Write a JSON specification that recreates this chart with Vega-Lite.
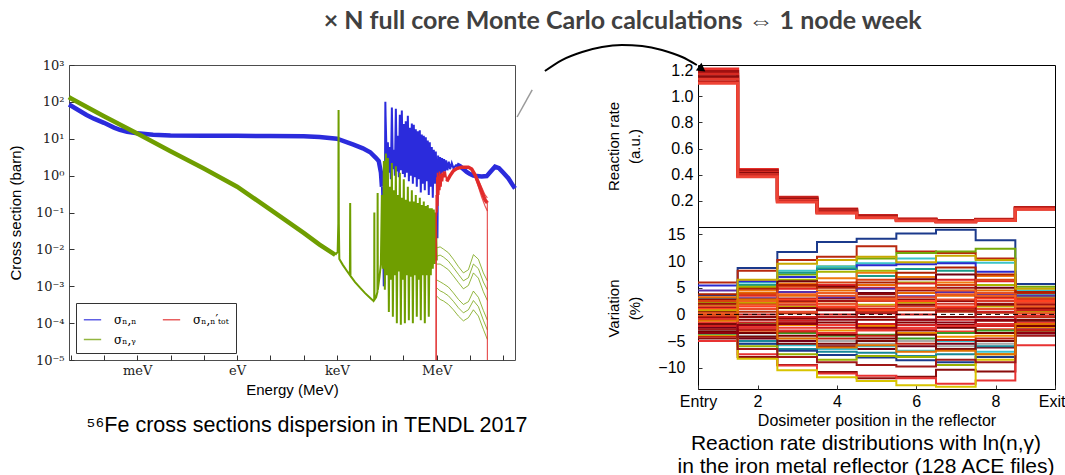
{
"$schema": "https://vega.github.io/schema/vega-lite/v6.json",
"padding": {"left": 7, "top": 8, "right": 0, "bottom": 0},
"background": "white",
"title": {"text": "× N full core Monte Carlo calculations ⇔ 1 node week", "font": "Lato", "fontSize": 25, "fontWeight": "bold", "color": "#404040", "anchor": "middle", "frame": "bounds", "dx": 86, "offset": 7},
"config": {
  "font": "Liberation Sans",
  "view": {"stroke": "black"},
  "axis": {"grid": false, "domain": false, "labelColor": "black", "titleColor": "black", "titleFontWeight": "normal", "titleFont": "Liberation Sans", "labelOverlap": false, "tickColor": "#333"},
  "legend": {"orient": "bottom-left", "offset": 7, "columns": 2, "symbolType": "stroke", "symbolStrokeWidth": 1.5, "symbolSize": 300, "labelFont": "DejaVu Serif", "labelFontSize": 12, "strokeColor": "#333", "fillColor": "white", "padding": 7, "columnPadding": 22, "rowPadding": 4, "labelOffset": 12}
},
"bounds": "flush",
"spacing": 183,
"resolve": {"scale": {"x": "independent", "y": "independent", "color": "independent"}, "legend": {"color": "independent"}, "axis": {"x": "independent", "y": "independent"}},
"hconcat": [
{
  "width": 446, "height": 295,
  "view": {"stroke": "#4d4d4d"},
  "title": {"text": "⁵⁶Fe cross sections dispersion in TENDL 2017", "orient": "bottom", "fontSize": 21.5, "fontWeight": "normal", "anchor": "middle", "frame": "group", "dx": 15, "offset": 18, "color": "black", "font": "Liberation Sans"},
  "encoding": {
    "x": {"field": "E", "type": "quantitative", "scale": {"type": "log", "domain": [8.9e-12, 224], "nice": false},
      "axis": {"values": [1e-11, 1e-10, 1e-9, 1e-8, 1e-7, 1e-6, 1e-5, 1e-4, 1e-3, 1e-2, 0.1, 1, 10, 100],
        "labelExpr": "round(log(datum.value)/LN10) == -9 ? 'meV' : round(log(datum.value)/LN10) == -6 ? 'eV' : round(log(datum.value)/LN10) == -3 ? 'keV' : round(log(datum.value)/LN10) == 0 ? 'MeV' : ''",
        "labelFont": "DejaVu Serif", "labelFontSize": 13, "labelColor": "#222", "labelPadding": 9, "ticks": true, "tickSize": -5, "labelOverlap": false,
        "title": "Energy (MeV)", "titleFontSize": 15, "titlePadding": 5}},
    "y": {"field": "s", "type": "quantitative", "scale": {"type": "log", "domain": [1e-5, 1000], "nice": false},
      "axis": {"values": [1e-5, 1e-4, 0.001, 0.01, 0.1, 1, 10, 100, 1000],
        "labelExpr": "'10' + ['⁻⁵','⁻⁴','⁻³','⁻²','⁻¹','⁰','¹','²','³'][round(log(datum.value)/LN10)+5]",
        "labelFont": "DejaVu Serif", "labelFontSize": 13, "labelColor": "#222", "labelPadding": 10, "ticks": true, "tickSize": -5, "labelOverlap": false,
        "title": "Cross section (barn)", "titleFontSize": 15, "titlePadding": 12}}
  },
  "layer": [
    {"data": {"values": [{"E":8.9e-12,"s":85},{"E":1e-11,"s":80},{"E":2e-11,"s":55},{"E":3e-11,"s":44},{"E":5e-11,"s":35},{"E":1e-10,"s":27},{"E":2e-10,"s":20},{"E":3e-10,"s":17.5},{"E":5e-10,"s":15.5},{"E":1e-9,"s":14},{"E":3e-9,"s":12.8},{"E":1e-8,"s":12.3},{"E":1e-7,"s":12},{"E":1e-6,"s":12},{"E":1e-5,"s":11.9},{"E":1e-4,"s":11.7},{"E":3e-4,"s":11.2},{"E":1e-3,"s":10},{"E":3e-3,"s":7},{"E":6e-3,"s":5.5},{"E":1e-2,"s":4.3},{"E":1.5e-2,"s":3.0},{"E":1.8e-2,"s":2.5},{"E":2.1e-2,"s":1.2},{"E":2.25e-2,"s":0.5}]},
     "mark": {"type": "line", "strokeWidth": 4.5},
     "encoding": {"color": {"datum": "σₙ,ₙ", "type": "nominal", "scale": {"domain": ["σₙ,ₙ", "σₙ,ᵧ", "σₙ,ₙ′ₜₒₜ"], "range": ["#2b2bdc", "#6f9e00", "#e12b2b"]}, "legend": {"title": null}}}},
    {"data": {"values": [{"E":2.25e-2,"s":0.5},{"E":2.4e-2,"s":0.05},{"E":2.55e-2,"s":1e-3},{"E":2.7e-2,"s":1.2e-3},{"E":2.8e-2,"s":5},{"E":2.85e-2,"s":100},{"E":2.9e-2,"s":40},{"E":0.0316,"s":2.0},{"E":0.0339,"s":8},{"E":0.0363,"s":1.2},{"E":0.0389,"s":6},{"E":0.0417,"s":0.8},{"E":0.0447,"s":70},{"E":0.0479,"s":1.5},{"E":0.0513,"s":5},{"E":0.055,"s":1.0},{"E":0.0589,"s":65},{"E":0.0631,"s":1.3},{"E":0.0676,"s":12},{"E":0.0724,"s":0.9},{"E":0.0776,"s":45},{"E":0.0832,"s":1.4},{"E":0.0891,"s":58},{"E":0.0955,"s":1.1},{"E":0.102,"s":25},{"E":0.110,"s":0.9},{"E":0.117,"s":30},{"E":0.126,"s":1.2},{"E":0.135,"s":42},{"E":0.145,"s":0.7},{"E":0.155,"s":20},{"E":0.166,"s":1.0},{"E":0.178,"s":26},{"E":0.191,"s":0.6},{"E":0.204,"s":24},{"E":0.219,"s":0.9},{"E":0.234,"s":18},{"E":0.251,"s":0.5},{"E":0.269,"s":16},{"E":0.288,"s":0.8},{"E":0.309,"s":17},{"E":0.331,"s":0.35},{"E":0.355,"s":13},{"E":0.380,"s":0.6},{"E":0.407,"s":12},{"E":0.437,"s":0.4},{"E":0.468,"s":11},{"E":0.501,"s":0.7},{"E":0.537,"s":9},{"E":0.575,"s":0.3},{"E":0.617,"s":8},{"E":0.661,"s":0.5},{"E":0.708,"s":6},{"E":0.759,"s":0.25},{"E":0.813,"s":5},{"E":0.871,"s":0.6},{"E":0.933,"s":4.5},{"E":1.0,"s":0.8},{"E":1.047,"s":0.02},{"E":1.096,"s":3.5},{"E":1.175,"s":1.0},{"E":1.259,"s":3.2},{"E":1.349,"s":1.1},{"E":1.445,"s":3.0},{"E":1.549,"s":1.2},{"E":1.66,"s":2.8},{"E":1.778,"s":1.3},{"E":1.905,"s":2.6},{"E":2.09,"s":1.4},{"E":2.29,"s":2.4},{"E":2.51,"s":1.5},{"E":2.82,"s":2.2},{"E":3.16,"s":1.6},{"E":3.98,"s":2.0}]},
     "mark": {"type": "line", "strokeWidth": 2},
     "encoding": {"color": {"datum": "σₙ,ₙ", "type": "nominal", "scale": {"domain": ["σₙ,ₙ", "σₙ,ᵧ", "σₙ,ₙ′ₜₒₜ"], "range": ["#2b2bdc", "#6f9e00", "#e12b2b"]}}}},
    {"data": {"values": [{"E":3.98,"s":2.0},{"E":5.0,"s":1.8},{"E":6.3,"s":1.5},{"E":7.9,"s":1.25},{"E":10,"s":1.1},{"E":12.6,"s":1.0},{"E":15.8,"s":0.97},{"E":22.4,"s":0.95},{"E":31.6,"s":0.97},{"E":41.7,"s":1.3},{"E":56.2,"s":1.75},{"E":74,"s":1.6},{"E":100,"s":1.2},{"E":141,"s":0.85},{"E":200,"s":0.52},{"E":224,"s":0.45}]},
     "mark": {"type": "line", "strokeWidth": 4.5},
     "encoding": {"color": {"datum": "σₙ,ₙ", "type": "nominal", "scale": {"domain": ["σₙ,ₙ", "σₙ,ᵧ", "σₙ,ₙ′ₜₒₜ"], "range": ["#2b2bdc", "#6f9e00", "#e12b2b"]}}}},
    {"data": {"values": [{"E":8.9e-12,"s":135},{"E":1e-11,"s":125},{"E":1e-10,"s":41},{"E":1e-9,"s":13.8},{"E":1e-8,"s":4.6},{"E":1e-7,"s":1.55},{"E":1e-6,"s":0.5},{"E":1e-5,"s":0.12},{"E":1e-4,"s":0.028},{"E":3e-4,"s":0.0135},{"E":8.9e-4,"s":0.0071}]},
     "mark": {"type": "line", "strokeWidth": 4.5},
     "encoding": {"color": {"datum": "σₙ,ᵧ", "type": "nominal", "scale": {"domain": ["σₙ,ₙ", "σₙ,ᵧ", "σₙ,ₙ′ₜₒₜ"], "range": ["#2b2bdc", "#6f9e00", "#e12b2b"]}}}},
    {"data": {"values": [{"E":8.9e-4,"s":0.0071},{"E":1.05e-3,"s":0.0085},{"E":1.1e-3,"s":0.05},{"E":1.12e-3,"s":60},{"E":1.14e-3,"s":0.05},{"E":1.18e-3,"s":0.0055},{"E":1.5e-3,"s":0.0038},{"E":2e-3,"s":0.0026},{"E":2.45e-3,"s":0.002},{"E":2.5e-3,"s":0.18},{"E":2.55e-3,"s":0.0019},{"E":3.5e-3,"s":0.0013},{"E":5e-3,"s":9e-4},{"E":7e-3,"s":6.5e-4},{"E":1e-2,"s":4.8e-4},{"E":1.25e-2,"s":4e-4},{"E":1.32e-2,"s":4.2e-4},{"E":1.33e-2,"s":0.1},{"E":1.34e-2,"s":4.3e-4},{"E":1.5e-2,"s":5e-4},{"E":1.65e-2,"s":7e-4},{"E":1.67e-2,"s":0.34},{"E":1.69e-2,"s":8e-4},{"E":1.9e-2,"s":1.8e-3},{"E":2.09e-2,"s":4e-3},{"E":0.0224,"s":0.3},{"E":0.024,"s":0.003},{"E":0.0257,"s":2.5},{"E":0.0275,"s":8e-4},{"E":0.0295,"s":4},{"E":0.0316,"s":2e-3},{"E":0.0339,"s":3},{"E":0.0363,"s":2e-4},{"E":0.0389,"s":0.5},{"E":0.0417,"s":1.5e-3},{"E":0.0447,"s":2.2},{"E":0.0479,"s":1.5e-4},{"E":0.0513,"s":0.4},{"E":0.055,"s":2e-3},{"E":0.0589,"s":1.8},{"E":0.0631,"s":1e-4},{"E":0.0676,"s":0.3},{"E":0.0724,"s":2.5e-3},{"E":0.0776,"s":1.2},{"E":0.0832,"s":9e-5},{"E":0.0891,"s":0.25},{"E":0.0955,"s":1.5e-3},{"E":0.102,"s":0.8},{"E":0.110,"s":1e-4},{"E":0.117,"s":0.22},{"E":0.126,"s":2e-3},{"E":0.135,"s":0.5},{"E":0.145,"s":1.2e-4},{"E":0.155,"s":0.2},{"E":0.166,"s":1.8e-3},{"E":0.178,"s":0.4},{"E":0.191,"s":1e-4},{"E":0.204,"s":0.2},{"E":0.219,"s":2e-3},{"E":0.234,"s":0.3},{"E":0.251,"s":1.5e-4},{"E":0.269,"s":0.18},{"E":0.288,"s":1.5e-3},{"E":0.309,"s":0.25},{"E":0.331,"s":1.2e-4},{"E":0.355,"s":0.16},{"E":0.380,"s":2e-3},{"E":0.407,"s":0.2},{"E":0.437,"s":1e-4},{"E":0.468,"s":0.15},{"E":0.501,"s":2e-3},{"E":0.537,"s":0.16},{"E":0.575,"s":1.5e-4},{"E":0.617,"s":0.13},{"E":0.661,"s":2e-3},{"E":0.708,"s":0.13},{"E":0.759,"s":3e-3},{"E":0.813,"s":0.12},{"E":0.871,"s":4e-3},{"E":0.933,"s":0.1},{"E":1.0,"s":5e-3}]},
     "mark": {"type": "line", "strokeWidth": 2},
     "encoding": {"color": {"datum": "σₙ,ᵧ", "type": "nominal", "scale": {"domain": ["σₙ,ₙ", "σₙ,ᵧ", "σₙ,ₙ′ₜₒₜ"], "range": ["#2b2bdc", "#6f9e00", "#e12b2b"]}}}},
    {"data": {"values": [
      {"k":1,"E":1.0,"s":0.011},{"k":1,"E":1.26,"s":0.0117},{"k":1,"E":1.58,"s":0.0102},{"k":1,"E":2.24,"s":0.0081},{"k":1,"E":3.16,"s":0.0054},{"k":1,"E":4.47,"s":0.0034},{"k":1,"E":6.31,"s":0.0023},{"k":1,"E":8.91,"s":0.0028},{"k":1,"E":12.6,"s":0.0072},{"k":1,"E":17.8,"s":0.0054},{"k":1,"E":25.1,"s":0.0023},{"k":1,"E":33.1,"s":0.0014},
      {"k":2,"E":1.0,"s":0.0065},{"k":2,"E":1.26,"s":0.007},{"k":2,"E":1.58,"s":0.0062},{"k":2,"E":2.24,"s":0.0048},{"k":2,"E":3.16,"s":0.0032},{"k":2,"E":4.47,"s":0.0021},{"k":2,"E":6.31,"s":0.0014},{"k":2,"E":8.91,"s":0.0017},{"k":2,"E":12.6,"s":0.004},{"k":2,"E":17.8,"s":0.003},{"k":2,"E":25.1,"s":0.0013},{"k":2,"E":33.1,"s":8e-4},
      {"k":3,"E":1.0,"s":0.004},{"k":3,"E":1.26,"s":0.004},{"k":3,"E":1.58,"s":0.0035},{"k":3,"E":2.24,"s":0.0028},{"k":3,"E":3.16,"s":0.0019},{"k":3,"E":4.47,"s":0.00126},{"k":3,"E":6.31,"s":8.5e-4},{"k":3,"E":8.91,"s":1.05e-3},{"k":3,"E":12.6,"s":0.0023},{"k":3,"E":17.8,"s":0.00166},{"k":3,"E":25.1,"s":7.1e-4},{"k":3,"E":33.1,"s":4.1e-4},
      {"k":4,"E":1.0,"s":0.00148},{"k":4,"E":1.26,"s":0.00132},{"k":4,"E":1.58,"s":0.00117},{"k":4,"E":2.24,"s":9.5e-4},{"k":4,"E":3.16,"s":6.6e-4},{"k":4,"E":4.47,"s":4.4e-4},{"k":4,"E":6.31,"s":3.2e-4},{"k":4,"E":8.91,"s":3.8e-4},{"k":4,"E":12.6,"s":7.4e-4},{"k":4,"E":17.8,"s":5e-4},{"k":4,"E":25.1,"s":2.2e-4},{"k":4,"E":33.1,"s":1.2e-4},
      {"k":5,"E":1.0,"s":9e-4},{"k":5,"E":1.26,"s":7.5e-4},{"k":5,"E":1.58,"s":6.8e-4},{"k":5,"E":2.24,"s":5.5e-4},{"k":5,"E":3.16,"s":3.9e-4},{"k":5,"E":4.47,"s":2.6e-4},{"k":5,"E":6.31,"s":1.9e-4},{"k":5,"E":8.91,"s":2.3e-4},{"k":5,"E":12.6,"s":4.1e-4},{"k":5,"E":17.8,"s":2.8e-4},{"k":5,"E":25.1,"s":1.2e-4},{"k":5,"E":33.1,"s":6.5e-5},
      {"k":6,"E":1.0,"s":5.4e-4},{"k":6,"E":1.26,"s":4.4e-4},{"k":6,"E":1.58,"s":4e-4},{"k":6,"E":2.24,"s":3.2e-4},{"k":6,"E":3.16,"s":2.3e-4},{"k":6,"E":4.47,"s":1.55e-4},{"k":6,"E":6.31,"s":1.15e-4},{"k":6,"E":8.91,"s":1.4e-4},{"k":6,"E":12.6,"s":2.3e-4},{"k":6,"E":17.8,"s":1.55e-4},{"k":6,"E":25.1,"s":6.8e-5},{"k":6,"E":33.1,"s":3.6e-5}]},
     "mark": {"type": "line", "strokeWidth": 1, "opacity": 0.75},
     "encoding": {"detail": {"field": "k", "type": "nominal"}, "color": {"datum": "σₙ,ᵧ", "type": "nominal", "scale": {"domain": ["σₙ,ₙ", "σₙ,ᵧ", "σₙ,ₙ′ₜₒₜ"], "range": ["#2b2bdc", "#6f9e00", "#e12b2b"]}}}},
    {"data": {"values": [{"E":0.955,"s":1e-5},{"E":0.96,"s":0.3},{"E":0.98,"s":0.08},{"E":1.0,"s":0.9},{"E":1.02,"s":0.1},{"E":1.05,"s":1.2},{"E":1.08,"s":0.15},{"E":1.12,"s":1.0},{"E":1.15,"s":0.3},{"E":1.2,"s":1.3},{"E":1.24,"s":0.4},{"E":1.3,"s":1.1},{"E":1.35,"s":0.5},{"E":1.4,"s":1.2},{"E":1.5,"s":0.7},{"E":1.6,"s":1.3},{"E":1.7,"s":0.9},{"E":1.8,"s":1.3},{"E":2.0,"s":0.7}]},
     "mark": {"type": "line", "strokeWidth": 1.5},
     "encoding": {"color": {"datum": "σₙ,ₙ′ₜₒₜ", "type": "nominal", "scale": {"domain": ["σₙ,ₙ", "σₙ,ᵧ", "σₙ,ₙ′ₜₒₜ"], "range": ["#2b2bdc", "#6f9e00", "#e12b2b"]}}}},
    {"data": {"values": [{"E":2.0,"s":0.7},{"E":2.51,"s":1.0},{"E":3.16,"s":1.35},{"E":3.98,"s":1.55},{"E":5.62,"s":1.7},{"E":8.91,"s":1.7},{"E":11.2,"s":1.5},{"E":14.1,"s":1.05},{"E":17.8,"s":0.63},{"E":22.4,"s":0.37},{"E":28.2,"s":0.22},{"E":33.1,"s":0.18}]},
     "mark": {"type": "line", "strokeWidth": 3.5},
     "encoding": {"color": {"datum": "σₙ,ₙ′ₜₒₜ", "type": "nominal", "scale": {"domain": ["σₙ,ₙ", "σₙ,ᵧ", "σₙ,ₙ′ₜₒₜ"], "range": ["#2b2bdc", "#6f9e00", "#e12b2b"]}}}},
    {"data": {"values": [{"k":1,"E":11.2,"s":1.5},{"k":1,"E":14.1,"s":0.95},{"k":1,"E":17.8,"s":0.5},{"k":1,"E":22.4,"s":0.26},{"k":1,"E":28.2,"s":0.15},{"k":1,"E":33.1,"s":0.11},{"k":2,"E":11.2,"s":1.5},{"k":2,"E":14.1,"s":1.1},{"k":2,"E":17.8,"s":0.75},{"k":2,"E":22.4,"s":0.48},{"k":2,"E":28.2,"s":0.3},{"k":2,"E":33.1,"s":0.25},{"k":3,"E":33.1,"s":0.18},{"k":3,"E":33.2,"s":1e-5}]},
     "mark": {"type": "line", "strokeWidth": 1.2, "opacity": 0.8},
     "encoding": {"detail": {"field": "k", "type": "nominal"}, "color": {"datum": "σₙ,ₙ′ₜₒₜ", "type": "nominal", "scale": {"domain": ["σₙ,ₙ", "σₙ,ᵧ", "σₙ,ₙ′ₜₒₜ"], "range": ["#2b2bdc", "#6f9e00", "#e12b2b"]}}}}
  ]
},
{
  "bounds": "flush",
  "spacing": 0,
  "resolve": {"scale": {"x": "independent", "y": "independent", "color": "independent"}, "axis": {"x": "independent", "y": "independent"}},
  "title": {"text": ["Reaction rate distributions with ln(n,γ)", "in the iron metal reflector (128 ACE files)"], "orient": "bottom", "fontSize": 21, "fontWeight": "normal", "lineHeight": 23, "anchor": "middle", "frame": "group", "dx": 168, "offset": 4, "color": "black", "font": "Liberation Sans"},
  "vconcat": [
    {
      "width": 357, "height": 162,
      "encoding": {
        "x": {"field": "x", "type": "quantitative", "scale": {"domain": [0.5, 9.5], "nice": false, "zero": false}, "axis": {"labels": false, "ticks": false, "title": null}},
        "y": {"field": "v", "type": "quantitative", "scale": {"domain": [0, 1.24], "nice": false}, "axis": {"values": [0.2, 0.4, 0.6, 0.8, 1.0, 1.2], "format": ".1f", "labelOverlap": false, "labelFontSize": 16, "labelPadding": 9, "ticks": true, "tickSize": -4, "title": ["Reaction rate", "(a.u.)"], "titleFontSize": 15, "titleLineHeight": 21, "titlePadding": 28}}
      },
      "layer": [
        {"data": {"values": [
          {"s":1,"x":0.5,"v":1.21},{"s":1,"x":1.5,"v":0.44},{"s":1,"x":2.5,"v":0.228},{"s":1,"x":3.5,"v":0.138},{"s":1,"x":4.5,"v":0.088},{"s":1,"x":5.5,"v":0.062},{"s":1,"x":6.5,"v":0.05},{"s":1,"x":7.5,"v":0.06},{"s":1,"x":8.5,"v":0.15},{"s":1,"x":9.5,"v":0.15},
          {"s":2,"x":0.5,"v":1.19},{"s":2,"x":1.5,"v":0.43},{"s":2,"x":2.5,"v":0.222},{"s":2,"x":3.5,"v":0.132},{"s":2,"x":4.5,"v":0.085},{"s":2,"x":5.5,"v":0.06},{"s":2,"x":6.5,"v":0.048},{"s":2,"x":7.5,"v":0.058},{"s":2,"x":8.5,"v":0.148},{"s":2,"x":9.5,"v":0.148},
          {"s":3,"x":0.5,"v":1.17},{"s":3,"x":1.5,"v":0.42},{"s":3,"x":2.5,"v":0.215},{"s":3,"x":3.5,"v":0.126},{"s":3,"x":4.5,"v":0.081},{"s":3,"x":5.5,"v":0.057},{"s":3,"x":6.5,"v":0.046},{"s":3,"x":7.5,"v":0.056},{"s":3,"x":8.5,"v":0.146},{"s":3,"x":9.5,"v":0.146},
          {"s":4,"x":0.5,"v":1.15},{"s":4,"x":1.5,"v":0.41},{"s":4,"x":2.5,"v":0.208},{"s":4,"x":3.5,"v":0.12},{"s":4,"x":4.5,"v":0.078},{"s":4,"x":5.5,"v":0.054},{"s":4,"x":6.5,"v":0.044},{"s":4,"x":7.5,"v":0.054},{"s":4,"x":8.5,"v":0.143},{"s":4,"x":9.5,"v":0.143},
          {"s":5,"x":0.5,"v":1.13},{"s":5,"x":1.5,"v":0.40},{"s":5,"x":2.5,"v":0.202},{"s":5,"x":3.5,"v":0.115},{"s":5,"x":4.5,"v":0.075},{"s":5,"x":5.5,"v":0.052},{"s":5,"x":6.5,"v":0.042},{"s":5,"x":7.5,"v":0.052},{"s":5,"x":8.5,"v":0.14},{"s":5,"x":9.5,"v":0.14},
          {"s":6,"x":0.5,"v":1.11},{"s":6,"x":1.5,"v":0.39},{"s":6,"x":2.5,"v":0.196},{"s":6,"x":3.5,"v":0.11},{"s":6,"x":4.5,"v":0.072},{"s":6,"x":5.5,"v":0.05},{"s":6,"x":6.5,"v":0.04},{"s":6,"x":7.5,"v":0.05},{"s":6,"x":8.5,"v":0.137},{"s":6,"x":9.5,"v":0.137},
          {"s":7,"x":0.5,"v":1.10},{"s":7,"x":1.5,"v":0.385},{"s":7,"x":2.5,"v":0.192},{"s":7,"x":3.5,"v":0.107},{"s":7,"x":4.5,"v":0.07},{"s":7,"x":5.5,"v":0.048},{"s":7,"x":6.5,"v":0.039},{"s":7,"x":7.5,"v":0.049},{"s":7,"x":8.5,"v":0.135},{"s":7,"x":9.5,"v":0.135}]},
         "mark": {"type": "line", "interpolate": "step-after", "strokeWidth": 3},
         "encoding": {
           "color": {"field": "s", "type": "nominal", "scale": {"domain": [1,2,3,4,5,6,7], "range": ["#e8302a","#a01010","#d62a22","#8c0c0c","#e53a2e","#b81a14","#ee4436"]}, "legend": null}}},
        {"data": {"values": [{"x":-4.06,"v":0.842},{"x":-3.68,"v":1.049}]},
         "mark": {"type": "line", "clip": false, "color": "#9a9a9a", "strokeWidth": 1.5}},
        {"data": {"values": [{"x":-3.36,"v":1.194},{"x":-2.93,"v":1.278},{"x":-2.42,"v":1.34},{"x":-1.92,"v":1.378},{"x":-1.42,"v":1.393},{"x":-0.91,"v":1.385},{"x":-0.41,"v":1.355},{"x":0.10,"v":1.301},{"x":0.47,"v":1.24}]},
         "mark": {"type": "line", "clip": false, "color": "black", "strokeWidth": 2, "interpolate": "monotone"}},
        {"data": {"values": [{"x":0.6,"v":1.209}]},
         "mark": {"type": "point", "clip": false, "shape": "triangle-up", "filled": true, "color": "black", "size": 90, "angle": 126, "opacity": 1}}
      ]
    },
    {
      "width": 357, "height": 162,
      "encoding": {
        "x": {"field": "x", "type": "quantitative", "scale": {"domain": [0.5, 9.5], "nice": false, "zero": false},
          "axis": {"values": [0.5, 2, 4, 6, 8, 9.5], "labelExpr": "datum.value == 0.5 ? 'Entry' : datum.value == 9.5 ? 'Exit' : datum.label",
            "labelAlign": {"condition": {"test": "datum.value == 9.5", "value": "right"}, "value": "center"},
            "labelOffset": {"condition": {"test": "datum.value == 9.5", "value": 10}, "value": 0},
            "labelFontSize": 16, "labelPadding": 8, "ticks": true, "tickSize": -4, "labelOverlap": false, "labelBound": false, "labelFlush": false, "title": "Dosimeter position in the reflector", "titleFontSize": 16, "titlePadding": 3}},
        "y": {"field": "v", "type": "quantitative", "scale": {"domain": [-14, 16.4], "nice": false, "zero": false},
          "axis": {"values": [-10, -5, 0, 5, 10, 15], "labelOverlap": false, "labelFontSize": 16, "labelPadding": 17, "ticks": true, "tickSize": -4, "title": ["Variation", "(%)"], "titleFontSize": 15, "titleLineHeight": 21, "titlePadding": 15}}
      },
      "layer": [
        {"data": {"values": [
{"s":1,"x":0.5,"v":3.6},{"s":1,"x":1.5,"v":8.7},{"s":1,"x":2.5,"v":11.7},{"s":1,"x":3.5,"v":13.6},{"s":1,"x":4.5,"v":14.2},{"s":1,"x":5.5,"v":15.2},{"s":1,"x":6.5,"v":15.9},{"s":1,"x":7.5,"v":13.9},{"s":1,"x":8.5,"v":5.7},{"s":1,"x":9.5,"v":5.7},
{"s":2,"x":0.5,"v":6.0},{"s":2,"x":1.5,"v":8.2},{"s":2,"x":2.5,"v":10.2},{"s":2,"x":3.5,"v":10.8},{"s":2,"x":4.5,"v":12.8},{"s":2,"x":5.5,"v":11.8},{"s":2,"x":6.5,"v":11.5},{"s":2,"x":7.5,"v":10.5},{"s":2,"x":8.5,"v":4.0},{"s":2,"x":9.5,"v":4.0},
{"s":3,"x":0.5,"v":2.0},{"s":3,"x":1.5,"v":5.0},{"s":3,"x":2.5,"v":7.5},{"s":3,"x":3.5,"v":9.0},{"s":3,"x":4.5,"v":10.5},{"s":3,"x":5.5,"v":11.5},{"s":3,"x":6.5,"v":11.8},{"s":3,"x":7.5,"v":12.3},{"s":3,"x":8.5,"v":5.2},{"s":3,"x":9.5,"v":5.2},
{"s":4,"x":0.5,"v":3.0},{"s":4,"x":1.5,"v":6.0},{"s":4,"x":2.5,"v":8.2},{"s":4,"x":3.5,"v":9.0},{"s":4,"x":4.5,"v":9.6},{"s":4,"x":5.5,"v":10.5},{"s":4,"x":6.5,"v":9.8},{"s":4,"x":7.5,"v":9.7},{"s":4,"x":8.5,"v":4.5},{"s":4,"x":9.5,"v":4.5},
{"s":5,"x":0.5,"v":5.4},{"s":5,"x":1.5,"v":6.2},{"s":5,"x":2.5,"v":7.0},{"s":5,"x":3.5,"v":8.5},{"s":5,"x":4.5,"v":9.2},{"s":5,"x":5.5,"v":9.4},{"s":5,"x":6.5,"v":9.6},{"s":5,"x":7.5,"v":8.0},{"s":5,"x":8.5,"v":3.0},{"s":5,"x":9.5,"v":3.0},
{"s":6,"x":0.5,"v":2.5},{"s":6,"x":1.5,"v":5.5},{"s":6,"x":2.5,"v":7.8},{"s":6,"x":3.5,"v":8.6},{"s":6,"x":4.5,"v":7.2},{"s":6,"x":5.5,"v":8.5},{"s":6,"x":6.5,"v":8.2},{"s":6,"x":7.5,"v":7.2},{"s":6,"x":8.5,"v":3.6},{"s":6,"x":9.5,"v":3.6},
{"s":7,"x":0.5,"v":1.0},{"s":7,"x":1.5,"v":4.5},{"s":7,"x":2.5,"v":5.8},{"s":7,"x":3.5,"v":6.8},{"s":7,"x":4.5,"v":7.8},{"s":7,"x":5.5,"v":7.0},{"s":7,"x":6.5,"v":6.0},{"s":7,"x":7.5,"v":7.2},{"s":7,"x":8.5,"v":2.5},{"s":7,"x":9.5,"v":2.5},
{"s":8,"x":0.5,"v":2.2},{"s":8,"x":1.5,"v":5.2},{"s":8,"x":2.5,"v":6.5},{"s":8,"x":3.5,"v":8.0},{"s":8,"x":4.5,"v":8.2},{"s":8,"x":5.5,"v":6.0},{"s":8,"x":6.5,"v":4.5},{"s":8,"x":7.5,"v":5.5},{"s":8,"x":8.5,"v":3.3},{"s":8,"x":9.5,"v":3.3},
{"s":9,"x":0.5,"v":0.5},{"s":9,"x":1.5,"v":3.5},{"s":9,"x":2.5,"v":4.8},{"s":9,"x":3.5,"v":5.5},{"s":9,"x":4.5,"v":5.0},{"s":9,"x":5.5,"v":5.8},{"s":9,"x":6.5,"v":6.5},{"s":9,"x":7.5,"v":6.2},{"s":9,"x":8.5,"v":2.0},{"s":9,"x":9.5,"v":2.0},
{"s":10,"x":0.5,"v":1.5},{"s":10,"x":1.5,"v":3.0},{"s":10,"x":2.5,"v":6.2},{"s":10,"x":3.5,"v":5.2},{"s":10,"x":4.5,"v":4.0},{"s":10,"x":5.5,"v":6.6},{"s":10,"x":6.5,"v":7.5},{"s":10,"x":7.5,"v":5.0},{"s":10,"x":8.5,"v":1.5},{"s":10,"x":9.5,"v":1.5},
{"s":11,"x":0.5,"v":3.2},{"s":11,"x":1.5,"v":4.0},{"s":11,"x":2.5,"v":3.5},{"s":11,"x":3.5,"v":4.5},{"s":11,"x":4.5,"v":5.5},{"s":11,"x":5.5,"v":4.0},{"s":11,"x":6.5,"v":3.5},{"s":11,"x":7.5,"v":4.5},{"s":11,"x":8.5,"v":1.0},{"s":11,"x":9.5,"v":1.0},
{"s":12,"x":0.5,"v":2.8},{"s":12,"x":1.5,"v":2.0},{"s":12,"x":2.5,"v":2.5},{"s":12,"x":3.5,"v":3.0},{"s":12,"x":4.5,"v":3.8},{"s":12,"x":5.5,"v":2.8},{"s":12,"x":6.5,"v":2.5},{"s":12,"x":7.5,"v":3.2},{"s":12,"x":8.5,"v":0.8},{"s":12,"x":9.5,"v":0.8},
{"s":13,"x":0.5,"v":1.8},{"s":13,"x":1.5,"v":2.2},{"s":13,"x":2.5,"v":1.5},{"s":13,"x":3.5,"v":2.0},{"s":13,"x":4.5,"v":1.8},{"s":13,"x":5.5,"v":2.2},{"s":13,"x":6.5,"v":1.0},{"s":13,"x":7.5,"v":1.5},{"s":13,"x":8.5,"v":0.5},{"s":13,"x":9.5,"v":0.5},
{"s":14,"x":0.5,"v":0.8},{"s":14,"x":1.5,"v":1.0},{"s":14,"x":2.5,"v":1.8},{"s":14,"x":3.5,"v":1.2},{"s":14,"x":4.5,"v":2.5},{"s":14,"x":5.5,"v":1.5},{"s":14,"x":6.5,"v":2.0},{"s":14,"x":7.5,"v":2.5},{"s":14,"x":8.5,"v":2.8},{"s":14,"x":9.5,"v":2.8},
{"s":15,"x":0.5,"v":4.5},{"s":15,"x":1.5,"v":3.0},{"s":15,"x":2.5,"v":4.2},{"s":15,"x":3.5,"v":3.2},{"s":15,"x":4.5,"v":4.8},{"s":15,"x":5.5,"v":3.4},{"s":15,"x":6.5,"v":4.2},{"s":15,"x":7.5,"v":3.8},{"s":15,"x":8.5,"v":3.5},{"s":15,"x":9.5,"v":3.5},
{"s":16,"x":0.5,"v":0.0},{"s":16,"x":1.5,"v":0.5},{"s":16,"x":2.5,"v":0.2},{"s":16,"x":3.5,"v":1.0},{"s":16,"x":4.5,"v":0.5},{"s":16,"x":5.5,"v":0.8},{"s":16,"x":6.5,"v":0.5},{"s":16,"x":7.5,"v":0.3},{"s":16,"x":8.5,"v":-0.5},{"s":16,"x":9.5,"v":-0.5},
{"s":17,"x":0.5,"v":-0.5},{"s":17,"x":1.5,"v":-1.0},{"s":17,"x":2.5,"v":-0.8},{"s":17,"x":3.5,"v":-1.5},{"s":17,"x":4.5,"v":-1.0},{"s":17,"x":5.5,"v":-1.5},{"s":17,"x":6.5,"v":-2.0},{"s":17,"x":7.5,"v":-1.2},{"s":17,"x":8.5,"v":-1.0},{"s":17,"x":9.5,"v":-1.0},
{"s":18,"x":0.5,"v":-1.5},{"s":18,"x":1.5,"v":-2.2},{"s":18,"x":2.5,"v":-2.5},{"s":18,"x":3.5,"v":-2.0},{"s":18,"x":4.5,"v":-3.0},{"s":18,"x":5.5,"v":-2.5},{"s":18,"x":6.5,"v":-3.2},{"s":18,"x":7.5,"v":-2.8},{"s":18,"x":8.5,"v":-1.5},{"s":18,"x":9.5,"v":-1.5},
{"s":19,"x":0.5,"v":-1.0},{"s":19,"x":1.5,"v":-1.8},{"s":19,"x":2.5,"v":-3.5},{"s":19,"x":3.5,"v":-4.0},{"s":19,"x":4.5,"v":-3.8},{"s":19,"x":5.5,"v":-4.5},{"s":19,"x":6.5,"v":-3.5},{"s":19,"x":7.5,"v":-3.0},{"s":19,"x":8.5,"v":-2.0},{"s":19,"x":9.5,"v":-2.0},
{"s":20,"x":0.5,"v":-2.0},{"s":20,"x":1.5,"v":-3.0},{"s":20,"x":2.5,"v":-2.0},{"s":20,"x":3.5,"v":-3.0},{"s":20,"x":4.5,"v":-2.2},{"s":20,"x":5.5,"v":-3.5},{"s":20,"x":6.5,"v":-4.2},{"s":20,"x":7.5,"v":-4.0},{"s":20,"x":8.5,"v":-2.5},{"s":20,"x":9.5,"v":-2.5},
{"s":21,"x":0.5,"v":-3.0},{"s":21,"x":1.5,"v":-4.0},{"s":21,"x":2.5,"v":-4.5},{"s":21,"x":3.5,"v":-5.0},{"s":21,"x":4.5,"v":-5.5},{"s":21,"x":5.5,"v":-5.0},{"s":21,"x":6.5,"v":-6.0},{"s":21,"x":7.5,"v":-5.5},{"s":21,"x":8.5,"v":-3.0},{"s":21,"x":9.5,"v":-3.0},
{"s":22,"x":0.5,"v":-2.5},{"s":22,"x":1.5,"v":-4.5},{"s":22,"x":2.5,"v":-5.0},{"s":22,"x":3.5,"v":-6.0},{"s":22,"x":4.5,"v":-6.5},{"s":22,"x":5.5,"v":-6.0},{"s":22,"x":6.5,"v":-5.5},{"s":22,"x":7.5,"v":-6.2},{"s":22,"x":8.5,"v":-3.6},{"s":22,"x":9.5,"v":-3.6},
{"s":23,"x":0.5,"v":-3.5},{"s":23,"x":1.5,"v":-5.5},{"s":23,"x":2.5,"v":-5.8},{"s":23,"x":3.5,"v":-6.5},{"s":23,"x":4.5,"v":-6.0},{"s":23,"x":5.5,"v":-6.8},{"s":23,"x":6.5,"v":-5.0},{"s":23,"x":7.5,"v":-7.0},{"s":23,"x":8.5,"v":-2.8},{"s":23,"x":9.5,"v":-2.8},
{"s":24,"x":0.5,"v":-3.8},{"s":24,"x":1.5,"v":-5.0},{"s":24,"x":2.5,"v":-6.5},{"s":24,"x":3.5,"v":-7.0},{"s":24,"x":4.5,"v":-7.2},{"s":24,"x":5.5,"v":-7.8},{"s":24,"x":6.5,"v":-7.5},{"s":24,"x":7.5,"v":-6.0},{"s":24,"x":8.5,"v":-3.2},{"s":24,"x":9.5,"v":-3.2},
{"s":25,"x":0.5,"v":-2.0},{"s":25,"x":1.5,"v":-5.5},{"s":25,"x":2.5,"v":-6.8},{"s":25,"x":3.5,"v":-7.6},{"s":25,"x":4.5,"v":-8.1},{"s":25,"x":5.5,"v":-8.6},{"s":25,"x":6.5,"v":-9.0},{"s":25,"x":7.5,"v":-8.0},{"s":25,"x":8.5,"v":-3.0},{"s":25,"x":9.5,"v":-3.0},
{"s":26,"x":0.5,"v":-4.0},{"s":26,"x":1.5,"v":-6.0},{"s":26,"x":2.5,"v":-7.5},{"s":26,"x":3.5,"v":-8.5},{"s":26,"x":4.5,"v":-7.8},{"s":26,"x":5.5,"v":-8.0},{"s":26,"x":6.5,"v":-9.5},{"s":26,"x":7.5,"v":-7.5},{"s":26,"x":8.5,"v":-3.5},{"s":26,"x":9.5,"v":-3.5},
{"s":27,"x":0.5,"v":-4.5},{"s":27,"x":1.5,"v":-8.0},{"s":27,"x":2.5,"v":-9.5},{"s":27,"x":3.5,"v":-10.8},{"s":27,"x":4.5,"v":-12.0},{"s":27,"x":5.5,"v":-11.7},{"s":27,"x":6.5,"v":-10.4},{"s":27,"x":7.5,"v":-10.7},{"s":27,"x":8.5,"v":-2.0},{"s":27,"x":9.5,"v":-2.0},
{"s":28,"x":0.5,"v":-5.0},{"s":28,"x":1.5,"v":-7.5},{"s":28,"x":2.5,"v":-9.6},{"s":28,"x":3.5,"v":-11.1},{"s":28,"x":4.5,"v":-11.5},{"s":28,"x":5.5,"v":-12.0},{"s":28,"x":6.5,"v":-13.0},{"s":28,"x":7.5,"v":-12.4},{"s":28,"x":8.5,"v":-5.8},{"s":28,"x":9.5,"v":-5.8},
{"s":29,"x":0.5,"v":-4.0},{"s":29,"x":1.5,"v":-8.3},{"s":29,"x":2.5,"v":-10.5},{"s":29,"x":3.5,"v":-11.8},{"s":29,"x":4.5,"v":-12.5},{"s":29,"x":5.5,"v":-13.3},{"s":29,"x":6.5,"v":-13.6},{"s":29,"x":7.5,"v":-8.5},{"s":29,"x":8.5,"v":-3.0},{"s":29,"x":9.5,"v":-3.0},
{"s":30,"x":0.5,"v":-1.0},{"s":30,"x":1.5,"v":0.0},{"s":30,"x":2.5,"v":-0.5},{"s":30,"x":3.5,"v":0.0},{"s":30,"x":4.5,"v":1.0},{"s":30,"x":5.5,"v":0.0},{"s":30,"x":6.5,"v":1.2},{"s":30,"x":7.5,"v":0.5},{"s":30,"x":8.5,"v":0.8},{"s":30,"x":9.5,"v":0.8},
{"s":31,"x":0.5,"v":1.5},{"s":31,"x":1.5,"v":1.0},{"s":31,"x":2.5,"v":0.5},{"s":31,"x":3.5,"v":2.0},{"s":31,"x":4.5,"v":1.5},{"s":31,"x":5.5,"v":3.2},{"s":31,"x":6.5,"v":2.8},{"s":31,"x":7.5,"v":1.0},{"s":31,"x":8.5,"v":2.2},{"s":31,"x":9.5,"v":2.2},
{"s":32,"x":0.5,"v":-3.2},{"s":32,"x":1.5,"v":-3.5},{"s":32,"x":2.5,"v":-4.0},{"s":32,"x":3.5,"v":-3.8},{"s":32,"x":4.5,"v":-4.5},{"s":32,"x":5.5,"v":-3.0},{"s":32,"x":6.5,"v":-2.5},{"s":32,"x":7.5,"v":-3.5},{"s":32,"x":8.5,"v":-2.2},{"s":32,"x":9.5,"v":-2.2},
{"s":33,"x":0.5,"v":2.0},{"s":33,"x":1.5,"v":2.8},{"s":33,"x":2.5,"v":3.0},{"s":33,"x":3.5,"v":2.5},{"s":33,"x":4.5,"v":3.2},{"s":33,"x":5.5,"v":4.5},{"s":33,"x":6.5,"v":5.0},{"s":33,"x":7.5,"v":2.0},{"s":33,"x":8.5,"v":1.8},{"s":33,"x":9.5,"v":1.8},
{"s":34,"x":0.5,"v":-2.2},{"s":34,"x":1.5,"v":-1.5},{"s":34,"x":2.5,"v":-1.2},{"s":34,"x":3.5,"v":-2.5},{"s":34,"x":4.5,"v":-1.8},{"s":34,"x":5.5,"v":-2.0},{"s":34,"x":6.5,"v":-1.0},{"s":34,"x":7.5,"v":-2.2},{"s":34,"x":8.5,"v":-2.8},{"s":34,"x":9.5,"v":-2.8},
{"s":35,"x":0.5,"v":0.5},{"s":35,"x":1.5,"v":-0.5},{"s":35,"x":2.5,"v":1.2},{"s":35,"x":3.5,"v":0.8},{"s":35,"x":4.5,"v":-0.5},{"s":35,"x":5.5,"v":1.8},{"s":35,"x":6.5,"v":-0.5},{"s":35,"x":7.5,"v":1.8},{"s":35,"x":8.5,"v":1.2},{"s":35,"x":9.5,"v":1.2},
{"s":36,"x":0.5,"v":-0.2},{"s":36,"x":1.5,"v":1.8},{"s":36,"x":2.5,"v":2.2},{"s":36,"x":3.5,"v":3.5},{"s":36,"x":4.5,"v":2.8},{"s":36,"x":5.5,"v":1.0},{"s":36,"x":6.5,"v":3.8},{"s":36,"x":7.5,"v":4.0},{"s":36,"x":8.5,"v":0.2},{"s":36,"x":9.5,"v":0.2},
{"s":37,"x":0.5,"v":1.2},{"s":37,"x":1.5,"v":-2.8},{"s":37,"x":2.5,"v":-1.5},{"s":37,"x":3.5,"v":-0.5},{"s":37,"x":4.5,"v":0.2},{"s":37,"x":5.5,"v":-1.0},{"s":37,"x":6.5,"v":0.8},{"s":37,"x":7.5,"v":-0.5},{"s":37,"x":8.5,"v":-1.8},{"s":37,"x":9.5,"v":-1.8},
{"s":38,"x":0.5,"v":-4.2},{"s":38,"x":1.5,"v":-3.0},{"s":38,"x":2.5,"v":-3.2},{"s":38,"x":3.5,"v":-4.5},{"s":38,"x":4.5,"v":-4.0},{"s":38,"x":5.5,"v":-5.5},{"s":38,"x":6.5,"v":-4.8},{"s":38,"x":7.5,"v":-4.5},{"s":38,"x":8.5,"v":-3.0},{"s":38,"x":9.5,"v":-3.0},
{"s":39,"x":0.5,"v":2.5},{"s":39,"x":1.5,"v":3.8},{"s":39,"x":2.5,"v":5.2},{"s":39,"x":3.5,"v":6.0},{"s":39,"x":4.5,"v":6.5},{"s":39,"x":5.5,"v":5.0},{"s":39,"x":6.5,"v":5.5},{"s":39,"x":7.5,"v":6.5},{"s":39,"x":8.5,"v":3.0},{"s":39,"x":9.5,"v":3.0},
{"s":40,"x":0.5,"v":-1.8},{"s":40,"x":1.5,"v":-4.2},{"s":40,"x":2.5,"v":-5.5},{"s":40,"x":3.5,"v":-5.5},{"s":40,"x":4.5,"v":-5.0},{"s":40,"x":5.5,"v":-3.8},{"s":40,"x":6.5,"v":-6.5},{"s":40,"x":7.5,"v":-5.0},{"s":40,"x":8.5,"v":-1.2},{"s":40,"x":9.5,"v":-1.2},
{"s":41,"x":0.5,"v":0.2},{"s":41,"x":1.5,"v":2.5},{"s":41,"x":2.5,"v":3.8},{"s":41,"x":3.5,"v":4.0},{"s":41,"x":4.5,"v":3.0},{"s":41,"x":5.5,"v":4.8},{"s":41,"x":6.5,"v":4.5},{"s":41,"x":7.5,"v":3.5},{"s":41,"x":8.5,"v":1.5},{"s":41,"x":9.5,"v":1.5},
{"s":42,"x":0.5,"v":-0.8},{"s":42,"x":1.5,"v":-2.5},{"s":42,"x":2.5,"v":-3.0},{"s":42,"x":3.5,"v":-3.5},{"s":42,"x":4.5,"v":-2.8},{"s":42,"x":5.5,"v":-2.8},{"s":42,"x":6.5,"v":-2.2},{"s":42,"x":7.5,"v":-1.8},{"s":42,"x":8.5,"v":-0.2},{"s":42,"x":9.5,"v":-0.2},
{"s":43,"x":0.5,"v":3.8},{"s":43,"x":1.5,"v":4.8},{"s":43,"x":2.5,"v":5.5},{"s":43,"x":3.5,"v":5.0},{"s":43,"x":4.5,"v":6.0},{"s":43,"x":5.5,"v":7.8},{"s":43,"x":6.5,"v":8.8},{"s":43,"x":7.5,"v":7.5},{"s":43,"x":8.5,"v":4.2},{"s":43,"x":9.5,"v":4.2},
{"s":44,"x":0.5,"v":-2.8},{"s":44,"x":1.5,"v":-6.5},{"s":44,"x":2.5,"v":-8.0},{"s":44,"x":3.5,"v":-9.0},{"s":44,"x":4.5,"v":-9.5},{"s":44,"x":5.5,"v":-9.8},{"s":44,"x":6.5,"v":-8.5},{"s":44,"x":7.5,"v":-9.0},{"s":44,"x":8.5,"v":-4.0},{"s":44,"x":9.5,"v":-4.0},
{"s":45,"x":0.5,"v":1.0},{"s":45,"x":1.5,"v":1.5},{"s":45,"x":2.5,"v":2.8},{"s":45,"x":3.5,"v":1.5},{"s":45,"x":4.5,"v":0.8},{"s":45,"x":5.5,"v":2.5},{"s":45,"x":6.5,"v":1.5},{"s":45,"x":7.5,"v":3.0},{"s":45,"x":8.5,"v":2.5},{"s":45,"x":9.5,"v":2.5},
{"s":46,"x":0.5,"v":-3.5},{"s":46,"x":1.5,"v":-2.0},{"s":46,"x":2.5,"v":-1.8},{"s":46,"x":3.5,"v":-1.0},{"s":46,"x":4.5,"v":-2.5},{"s":46,"x":5.5,"v":-1.0},{"s":46,"x":6.5,"v":-1.5},{"s":46,"x":7.5,"v":-1.0},{"s":46,"x":8.5,"v":-3.5},{"s":46,"x":9.5,"v":-3.5},
{"s":47,"x":0.5,"v":0.8},{"s":47,"x":1.5,"v":6.5},{"s":47,"x":2.5,"v":9.5},{"s":47,"x":3.5,"v":10.2},{"s":47,"x":4.5,"v":10.8},{"s":47,"x":5.5,"v":9.8},{"s":47,"x":6.5,"v":11.0},{"s":47,"x":7.5,"v":10.2},{"s":47,"x":8.5,"v":4.8},{"s":47,"x":9.5,"v":4.8},
{"s":48,"x":0.5,"v":-1.2},{"s":48,"x":1.5,"v":2.8},{"s":48,"x":2.5,"v":-4.5},{"s":48,"x":3.5,"v":-6.2},{"s":48,"x":4.5,"v":-5.8},{"s":48,"x":5.5,"v":-7.0},{"s":48,"x":6.5,"v":-6.8},{"s":48,"x":7.5,"v":-7.5},{"s":48,"x":8.5,"v":-1.8},{"s":48,"x":9.5,"v":-1.8}]},
         "mark": {"type": "line", "interpolate": "step-after", "strokeWidth": 2},
         "encoding": {
           "color": {"field": "s", "type": "nominal", "scale": {"domain": [1,2,3,4,5,6,7,8,9,10,11,12,13,14,15,16,17,18,19,20,21,22,23,24,25,26,27,28,29,30,31,32,33,34,35,36,37,38,39,40,41,42,43,44,45,46,47,48], "range": ["#1b3a8c","#b8280e","#74a80a","#3cc4c8","#2a2ad0","#1a9a88","#f07a10","#a8b400","#e02424","#6e0010","#e86800","#900a0a","#c8a400","#d83828","#5a30a8","#b83010","#8a0000","#ee3a30","#3a9a22","#f09000","#a8a8a8","#700018","#38c0d0","#1a8898","#1b3a8c","#98b000","#8a0c0c","#e83232","#d8c400","#c81c1c","#e84a2a","#780000","#a01010","#d02020","#8a0808","#e85020","#b01818","#c02010","#d84010","#7a0a0a","#f06020","#e03030","#b02000","#a01818","#ff4020","#900010","#c8a800","#e07000"]}, "legend": null}}},
        {"data": {"values": [{"x": 0.5, "v": 0}, {"x": 9.5, "v": 0}]},
         "mark": {"type": "line", "color": "black", "strokeDash": [5, 4], "strokeWidth": 1}}
      ]
    }
  ]
}
]
}
